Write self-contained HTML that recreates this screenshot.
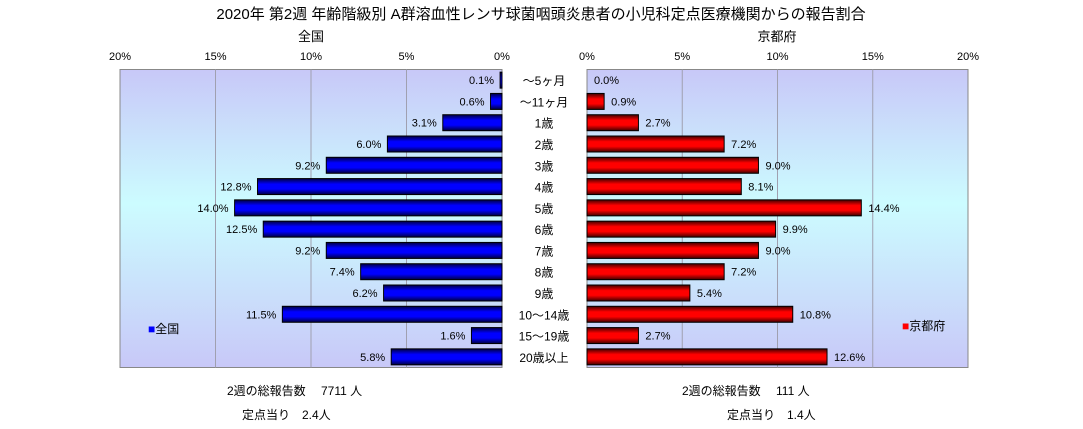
<!DOCTYPE html>
<html><head><meta charset="utf-8"><style>
html,body{margin:0;padding:0;background:#fff;}
svg{display:block;font-family:"Liberation Sans","Noto Sans CJK JP",sans-serif;}
</style></head><body>
<svg id="chart" width="1083" height="429" viewBox="0 0 1083 429">
<defs>
<linearGradient id="bg" x1="0" y1="0" x2="0" y2="1">
<stop offset="0" stop-color="#c8c8f8"/><stop offset="0.45" stop-color="#ccfcff"/><stop offset="1" stop-color="#c8c8f8"/>
</linearGradient>
<linearGradient id="gb" x1="0" y1="0" x2="0" y2="1">
<stop offset="0" stop-color="#000040"/><stop offset="0.35" stop-color="#0000ff"/><stop offset="0.65" stop-color="#0000ff"/><stop offset="1" stop-color="#000040"/>
</linearGradient>
<linearGradient id="gr" x1="0" y1="0" x2="0" y2="1">
<stop offset="0" stop-color="#400000"/><stop offset="0.35" stop-color="#ff0000"/><stop offset="0.65" stop-color="#ff0000"/><stop offset="1" stop-color="#400000"/>
</linearGradient>
</defs>
<text x="541" y="19" font-size="15" text-anchor="middle">2020年 第2週 年齢階級別 A群溶血性レンサ球菌咽頭炎患者の小児科定点医療機関からの報告割合</text>
<text x="311" y="41" font-size="13" text-anchor="middle">全国</text>
<text x="777" y="41" font-size="13" text-anchor="middle">京都府</text>
<rect x="120" y="69.5" width="382" height="298" fill="url(#bg)" stroke="#888"/>
<rect x="587" y="69.5" width="381" height="298" fill="url(#bg)" stroke="#888"/>
<g id="g"></g>
<text x="148" y="333" font-size="12"><tspan fill="#0000ff">■</tspan>全国</text>
<text x="902" y="330" font-size="12"><tspan fill="#ff0000">■</tspan>京都府</text>
<text x="227" y="395" font-size="12">2週の総報告数　 7711 人</text>
<text x="242" y="419" font-size="12">定点当り　2.4人</text>
<text x="682" y="395" font-size="12">2週の総報告数　 111 人</text>
<text x="727" y="419" font-size="12">定点当り　1.4人</text>
</svg>
<script>
const categories=["～5ヶ月","～11ヶ月","1歳","2歳","3歳","4歳","5歳","6歳","7歳","8歳","9歳","10～14歳","15～19歳","20歳以上"];
const zenkoku=[0.1,0.6,3.1,6.0,9.2,12.8,14.0,12.5,9.2,7.4,6.2,11.5,1.6,5.8];
const kyoto=[0.0,0.9,2.7,7.2,9.0,8.1,14.4,9.9,9.0,7.2,5.4,10.8,2.7,12.6];
const ticks=[0,5,10,15,20];
const NS="http://www.w3.org/2000/svg";
const g=document.getElementById('g');
const top0=69.5,rowH=298/categories.length,barH=16;
const xL=v=>502-v*382/20, xR=v=>587+v*381/20;
const y=i=>top0+i*rowH;
function mk(tag,attrs,txt){const e=document.createElementNS(NS,tag);for(const k in attrs)e.setAttribute(k,attrs[k]);if(txt!==undefined)e.textContent=txt;g.appendChild(e);return e;}
ticks.forEach(t=>{
 if(t>0&&t<20){
  let l=mk('line',{x1:xL(t),x2:xL(t),y1:top0,y2:top0+298,stroke:'#a0a0b0'});
  
  
  let r=mk('line',{x1:xR(t),x2:xR(t),y1:top0,y2:top0+298,stroke:'#a0a0b0'});
  
  
 }
 let a=mk('text',{x:xL(t),y:60,'font-size':11,'text-anchor':'middle'},t+'%');
 
 
 let b=mk('text',{x:xR(t),y:60,'font-size':11,'text-anchor':'middle'},t+'%');
 
 
});
categories.forEach((c,i)=>{
 const yt=y(i)+(rowH-barH)/2, yc=y(i)+rowH/2+4;
 let lab=mk('text',{x:544,y:yc+1,'font-size':12,'text-anchor':'middle'},c);
 
 
 const v=zenkoku[i];
 let bl=mk('rect',{x:xL(v),y:yt,width:xL(0)-xL(v),height:barH,fill:'url(#gb)',stroke:'#000','stroke-width':1});
 
 
 let tl=mk('text',{x:xL(v)-6,y:yc,'font-size':11,'text-anchor':'end'},v.toFixed(1)+'%');
 
 
 const w=kyoto[i];
 let br=mk('rect',{x:xR(0),y:yt,width:xR(w)-xR(0),height:barH,fill:'url(#gr)',stroke:'#000','stroke-width':1});
 
 
 let tr=mk('text',{x:xR(w)+7,y:yc,'font-size':11},w.toFixed(1)+'%');
 
 
});
</script>
</body></html>
